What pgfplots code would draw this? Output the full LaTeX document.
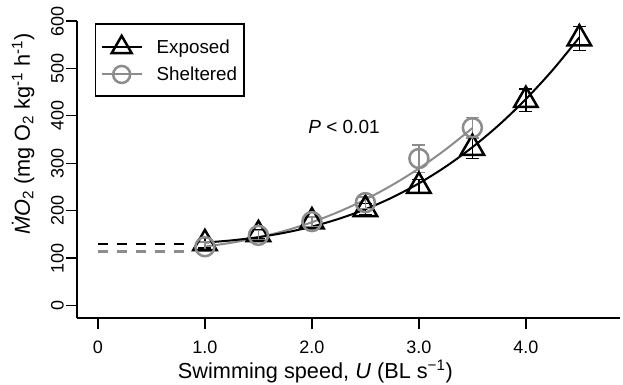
\documentclass[border=0pt]{standalone}
\usepackage{fontspec}
\setmainfont{Liberation Sans}
\usepackage{pgfplots}
\pgfplotsset{compat=1.18}
\definecolor{grayc}{gray}{0.55}
\begin{document}
\begin{tikzpicture}[font=\fontsize{18bp}{21bp}\selectfont]
\path[use as bounding box] (-77bp,-67bp) rectangle (546bp,318bp);
\begin{axis}[
  at={(0,0)}, anchor=south west,
  scale only axis, width=543bp, height=297bp,
  xmin=-0.196, xmax=4.88, ymin=-26.3, ymax=600,
  axis x line*=bottom, axis y line*=left,
  axis line style={line width=1.3bp},
  every tick/.style={line width=1.3bp, black},
  tick align=outside, major tick length=11bp,
  xtick={0,1,2,3,4}, xticklabels={0,1.0,2.0,3.0,4.0},
  ytick={0,100,200,300,400,500,600},
  /pgf/number format/assume math mode=true,
  xticklabel style={anchor=north, inner sep=0pt, yshift=-12bp},
  yticklabel style={xshift=-2bp, rotate=90, anchor=south, inner sep=0pt},
  xlabel={\fontsize{21.7bp}{25bp}\selectfont Swimming speed, \textit{U} (BL s\textsuperscript{−1})},
  xlabel style={at={(axis description cs:0.439,0)}, anchor=base, yshift=-60bp, inner sep=0pt},
  ylabel={\fontsize{21.7bp}{25bp}\selectfont\textit{\.{M}O}\textsubscript{2} (mg O\textsubscript{2} kg\textsuperscript{-1} h\textsuperscript{-1})},
  ylabel style={at={(axis description cs:-0.0866,0.62)}, anchor=base, rotate=0, inner sep=0pt},
  legend style={at={(axis description cs:0.033,0.993)}, anchor=north west, draw=black, line width=1.5bp,
    inner xsep=5bp, inner ysep=12bp, row sep=8bp, nodes={inner sep=2bp}, font=\fontsize{18.8bp}{21bp}\selectfont},
  legend cell align=left,
  clip=false,
]
\addlegendimage{black, line width=2bp, mark=triangle, mark size=11.5bp, mark options={line width=2.5bp, solid},
  legend image code/.code={\draw[mark repeat=2,mark phase=2] plot coordinates {(0bp,0bp) (20bp,0bp) (40bp,0bp)};}}
\addlegendentry{\hspace{12bp}Exposed}
\addlegendimage{grayc, line width=2bp, mark=o, mark size=8.5bp, mark options={line width=2.5bp, solid},
  legend image code/.code={\draw[mark repeat=2,mark phase=2] plot coordinates {(0bp,0bp) (20bp,0bp) (40bp,0bp)};}}
\addlegendentry{\hspace{12bp}Sheltered}

% dashed extrapolations
\addplot[black, line width=2.2bp, dash pattern=on 10bp off 9bp, forget plot] coordinates {(0,129) (0.8,129)};
\addplot[grayc, line width=2.2bp, dash pattern=on 10bp off 9bp, forget plot] coordinates {(0,114) (0.8,114)};

% fitted curves
\addplot[grayc, line width=2bp, smooth, forget plot] coordinates {
(1.0,124.4) (1.25,132.5) (1.5,143.5) (1.75,157.8) (2.0,175.7) (2.25,197.6) (2.5,223.6) (2.75,254.0) (3.0,289.0) (3.25,329.1) (3.5,374.2)};
\addplot[black, line width=2bp, smooth, forget plot] coordinates {
(1.0,132.8) (1.25,137.4) (1.5,144.2) (1.75,153.7) (2.0,166.4) (2.25,182.7) (2.5,203.0) (2.75,227.8) (3.0,257.6) (3.25,292.8) (3.5,333.8) (3.75,381.1) (4.0,435.2) (4.25,496.5) (4.5,565.4)};

% Exposed
\addplot[black, only marks, mark=triangle, mark size=13.5bp, mark options={line width=2.5bp, solid}, forget plot,
  error bars/.cd, y dir=both, y explicit, error bar style={line width=1.5bp}, error mark options={line width=1.5bp, mark size=6.5bp, rotate=90}]
  table[x=x, y=y, y error=e] {
x y e
1.0 131 10
1.5 150 10
2.0 177 10
2.5 203 12
3.0 252 14
3.5 332 22
4.0 433 24
4.5 563 25
};
% Sheltered
\addplot[grayc, only marks, mark=o, mark size=9.5bp, mark options={line width=2.5bp, solid}, forget plot,
  error bars/.cd, y dir=both, y explicit, error bar style={line width=1.5bp}, error mark options={line width=1.5bp, mark size=6.5bp, rotate=90}]
  table[x=x, y=y, y error=e] {
x y e
1.0 124 10
1.5 148 10
2.0 177 10
2.5 217 12
3.0 310 29
3.5 375 22
};
\node[anchor=center, font=\fontsize{19bp}{21bp}\selectfont] at (axis cs:2.3,376) {\textit{P} < 0.01};
\end{axis}
\end{tikzpicture}
\end{document}
